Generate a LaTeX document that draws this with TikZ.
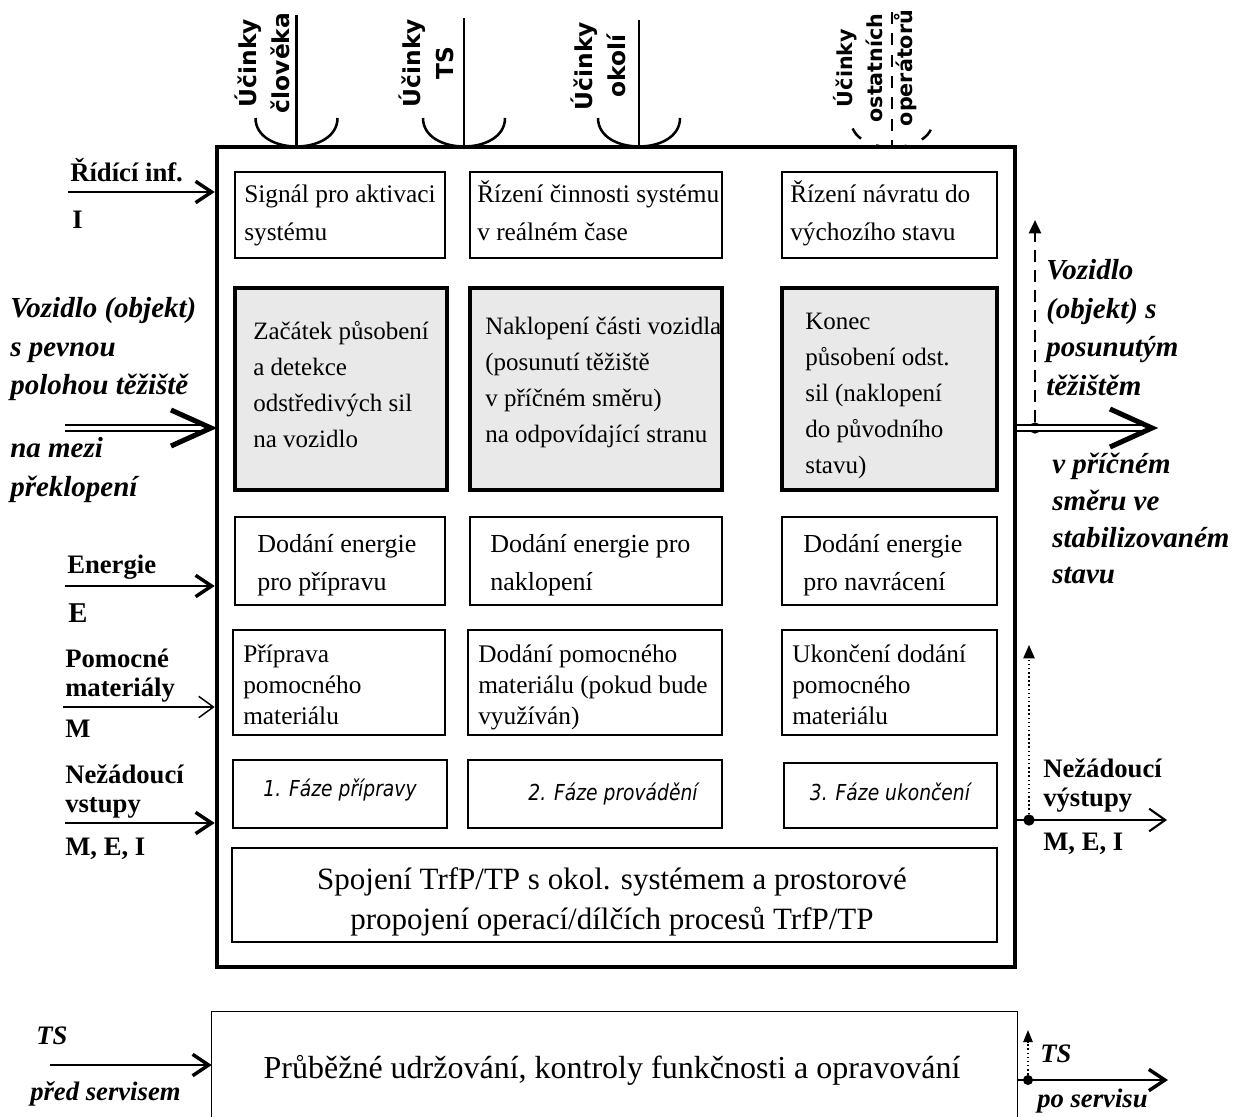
\documentclass[tikz,border=0pt]{standalone}
\usepackage{fontspec}
\setmainfont{Liberation Serif}
\newfontfamily\topfont{DejaVu Sans}
\newfontfamily\phasefont[FakeStretch=0.85]{DejaVu Sans}
\usetikzlibrary{arrows.meta,fit}
\definecolor{boxgray}{RGB}{233,233,233}
\tikzset{
  mainframe/.style={draw, line width=3.5pt, inner sep=0pt},
  thinbox/.style={draw, line width=1.1pt, inner sep=0pt},
  graybox/.style={draw, line width=2.6pt, fill=boxgray, inner sep=0pt},
  btxt/.style={anchor=north west, align=left, inner sep=0pt, font=\fontsize{19}{28.5}\selectfont},
  etxt/.style={anchor=north west, align=left, inner sep=0pt, font=\fontsize{19.5}{28.5}\selectfont},
  gtxt/.style={anchor=north west, align=left, inner sep=0pt, font=\fontsize{18.75}{27}\selectfont},
  stxt/.style={anchor=north west, align=left, inner sep=0pt, font=\fontsize{19}{23.25}\selectfont},
  phase/.style={anchor=base, inner sep=0pt, font=\phasefont\itshape\fontsize{16.5}{18}\selectfont},
  toplbl/.style={rotate=90, anchor=south, align=center, inner sep=0pt, font=\topfont\bfseries\fontsize{17.5}{24.5}\selectfont},
  blone/.style={anchor=base west, inner sep=0pt, font=\bfseries\fontsize{20}{22}\selectfont},
  blml/.style={anchor=north west, align=left, inner sep=0pt, font=\bfseries\fontsize{20}{21.5}\selectfont},
  biml/.style={anchor=north west, align=left, inner sep=0pt, font=\bfseries\itshape\fontsize{21.75}{29}\selectfont},
  bione/.style={anchor=base west, inner sep=0pt, font=\bfseries\itshape\fontsize{20}{24}\selectfont},
  inl/.style={line width=1.9pt},
  thickarr/.style={line width=2.2pt, -{Straight Barb[length=12pt,width=16pt,line width=2.6pt]}},
  thinarr/.style={line width=1.1pt, -{Straight Barb[length=11pt,width=16pt,line width=1.1pt]}},
  medarr/.style={line width=1.6pt, -{Straight Barb[length=12pt,width=17pt,line width=1.6pt]}},
  dblline/.style={line width=1.5pt, double, double distance=3pt},
  chevron/.style={line width=3.8pt, line join=miter},
  dotnode/.style={circle, fill, inner sep=0pt, minimum size=8.5pt},
  dashup/.style={line width=1.9pt, dash pattern=on 9pt off 6pt, -{Triangle[length=10pt,width=9pt]}},
  dotup/.style={line width=1.1pt, dotted, -{Triangle[length=10pt,width=8.5pt]}},
}
\begin{document}
\begin{tikzpicture}[x=0.75pt,y=-0.75pt]
\useasboundingbox (0,0) rectangle (1235,1117);

% main frame
\node[mainframe, fit={(217,147) (1015,967)}] (main) {};

% row 1
\node[thinbox, fit={(235,172) (445,258)}] (a1) {};
\node[thinbox, fit={(470,172) (722,258)}] (b1) {};
\node[thinbox, fit={(782,172) (997,258)}] (c1) {};
\node[btxt] (a1t) at (244,176) {\strut Signál pro aktivaci\\systému};
\node[btxt] (b1t) at (477,176) {\strut Řízení činnosti systému\\v reálném čase};
\node[btxt] (c1t) at (790,176) {\strut Řízení návratu do\\výchozího stavu};

% row 2
\node[graybox, fit={(235,288) (447,490)}] (a2) {};
\node[graybox, fit={(470,288) (722,490)}] (b2) {};
\node[graybox, fit={(782,288) (997,490)}] (c2) {};
\node[gtxt] (a2t) at (253,314) {\strut Začátek působení\\a detekce\\odstředivých sil\\na vozidlo};
\node[gtxt] (b2t) at (485,309) {\strut Naklopení části vozidla\\(posunutí těžiště\\v příčném směru)\\na odpovídající stranu};
\node[gtxt] (c2t) at (805,304) {\strut Konec\\působení odst.\\sil (naklopení\\do původního\\stavu)};

% row 3
\node[thinbox, fit={(235,517) (445,605)}] (a3) {};
\node[thinbox, fit={(470,517) (722,605)}] (b3) {};
\node[thinbox, fit={(782,517) (997,605)}] (c3) {};
\node[etxt] (a3t) at (257,526) {\strut Dodání energie\\pro přípravu};
\node[etxt] (b3t) at (490,526) {\strut Dodání energie pro\\naklopení};
\node[etxt] (c3t) at (803,526) {\strut Dodání energie\\pro navrácení};

% row 4
\node[thinbox, fit={(233,630) (445,735)}] (a4) {};
\node[thinbox, fit={(468,630) (722,735)}] (b4) {};
\node[thinbox, fit={(782,630) (997,735)}] (c4) {};
\node[stxt] (a4t) at (243,641) {\strut Příprava\\pomocného\\materiálu};
\node[stxt] (b4t) at (478,641) {\strut Dodání pomocného\\materiálu (pokud bude\\využíván)};
\node[stxt] (c4t) at (792,641) {\strut Ukončení dodání\\pomocného\\materiálu};

% row 5
\node[thinbox, fit={(233,760) (447,828)}] (a5) {};
\node[thinbox, fit={(468,760) (722,828)}] (b5) {};
\node[thinbox, fit={(784,763) (997,828)}] (c5) {};
\node[phase] (a5t) at (340,796) {1. Fáze přípravy};
\node[phase] (b5t) at (613,800) {2. Fáze provádění};
\node[phase] (c5t) at (890,800) {3. Fáze ukončení};

% row 6
\node[thinbox, fit={(232,848) (997,942)}] (d) {};
\node[anchor=north, align=center, inner sep=0pt, font=\fontsize{23.25}{30}\selectfont] (dt) at (612,861)
  {\strut Spojení TrfP/TP s okol. systémem a prostorové\\propojení operací/dílčích procesů TrfP/TP};

% ---------- top influences ----------
\node[toplbl] (t1) at (290,63) {Účinky\\člověka};
\node[toplbl] (t2) at (454,63) {Účinky\\TS};
\node[toplbl] (t3) at (626,66) {Účinky\\okolí};
\node[toplbl, font=\topfont\bfseries\fontsize{15.5}{22.5}\selectfont] (t4) at (917,68) {Účinky\\ostatních\\operátorů};
\coordinate (u1) at (296.5,15);
\coordinate (u2) at (464,18);
\coordinate (u3) at (639,20);
\coordinate (u4) at (892,12);
\draw[inl] (u1) -- (u1 |- main.north);
\draw[inl] (u2) -- (u2 |- main.north);
\draw[inl] (u3) -- (u3 |- main.north);
\draw[inl, dash pattern=on 9pt off 7pt] (u4) -- (u4 |- main.north);
\draw[inl] (255.5,118) .. controls (255.5,156) and (337.5,156) .. (337.5,118);
\draw[inl] (423,118) .. controls (423,156) and (505,156) .. (505,118);
\draw[inl] (598,118) .. controls (598,156) and (680,156) .. (680,118);
\draw[inl, dash pattern=on 0pt off 6.5pt on 10pt off 12.5pt on 23pt off 12.5pt on 10pt off 6.5pt]
  (851,120) .. controls (851,156.5) and (933,156.5) .. (933,120);

% ---------- left inputs ----------
\node[blone] (ril) at (70,181) {Řídící inf.};
\node[blone] (ril2) at (72,228) {I};
\coordinate (ri0) at (68,192);
\draw[thickarr] (ri0) -- (ri0 -| main.west);

\node[biml] (vl1) at (10,290) {\strut Vozidlo (objekt)\\s pevnou\\polohou těžiště};
\node[biml] (vl2) at (10,430) {\strut na mezi\\překlopení};
\coordinate (vi0) at (65,428);
\coordinate (vitip) at (211,428);
\draw[dblline] (vi0) -- ([xshift=-4pt]vitip);
\draw[chevron] ([shift={(-40,-18)}]vitip) -- (vitip) -- ([shift={(-40,18)}]vitip);

\node[blone] (enl) at (67,573) {Energie};
\node[blone, font=\bfseries\fontsize{21.5}{24}\selectfont] (enl2) at (68,622) {E};
\coordinate (en0) at (65,586);
\draw[thickarr] (en0) -- (en0 -| main.west);

\node[blml] (pml) at (65,647.5) {\strut Pomocné\\materiály};
\node[blone] (pml2) at (65,737) {M};
\coordinate (pm0) at (63,707);
\draw[thinarr] (pm0) -- (pm0 -| main.west);

\node[blml] (nvl) at (65,763) {\strut Nežádoucí\\vstupy};
\node[blone] (nvl2) at (65,855) {M, E, I};
\coordinate (nv0) at (65,823);
\draw[thickarr] (nv0) -- (nv0 -| main.west);

% ---------- right outputs ----------
\node[dotnode] (vdot) at (1035,428) {};
\coordinate (vup) at (1035,220);
\coordinate (votip) at (1152,428);
\draw[dblline] (main.east |- vdot) -- ([xshift=-4pt]votip);
\draw[chevron] ([shift={(-42,-19)}]votip) -- (votip) -- ([shift={(-42,19)}]votip);
\draw[dashup] (vdot) -- (vup);
\node[biml] (vr1) at (1046,252) {\strut Vozidlo\\(objekt) s\\posunutým\\těžištěm};
\node[biml, font=\bfseries\itshape\fontsize{21.75}{27.5}\selectfont] (vr2) at (1052,448) {\strut v příčném\\směru ve\\stabilizovaném\\stavu};

\node[dotnode] (ndot) at (1029,820) {};
\coordinate (nup) at (1029,645);
\coordinate (nend) at (1167,820);
\draw[medarr] (main.east |- ndot) -- (nend);
\draw[dotup] (ndot) -- (nup);
\node[blml, font=\bfseries\fontsize{20}{21.5}\selectfont] (nol) at (1043,757) {\strut Nežádoucí\\výstupy};
\node[blone] (nol2) at (1043,850) {M, E, I};

% ---------- bottom: service ----------
\node[inner sep=0pt, fit={(212,1012) (1017,1117)}] (srv) {};
\draw[line width=1.1pt] (srv.south west) -- (srv.north west) -- (srv.north east) -- (srv.south east);
\node[anchor=base, inner sep=0pt, font=\fontsize{24}{28}\selectfont] (srvt) at (612,1078)
  {Průběžné udržování, kontroly funkčnosti a opravování};

\node[bione] (tsl) at (36,1044) {TS};
\node[bione] (tsl2) at (30,1100) {před servisem};
\coordinate (ts0) at (50,1065);
\draw[thickarr] (ts0) -- (ts0 -| srv.west);

\node[dotnode, minimum size=7.5pt] (sdot) at (1028,1080) {};
\coordinate (sup) at (1028,1030);
\coordinate (send) at (1168,1080);
\draw[thickarr] (srv.east |- sdot) -- (send);
\draw[dotup, -{Triangle[length=9pt,width=7pt]}] (sdot) -- (sup);
\node[bione] (tsr) at (1040,1062) {TS};
\node[bione] (tsr2) at (1037,1107) {po servisu};
\end{tikzpicture}
\end{document}
